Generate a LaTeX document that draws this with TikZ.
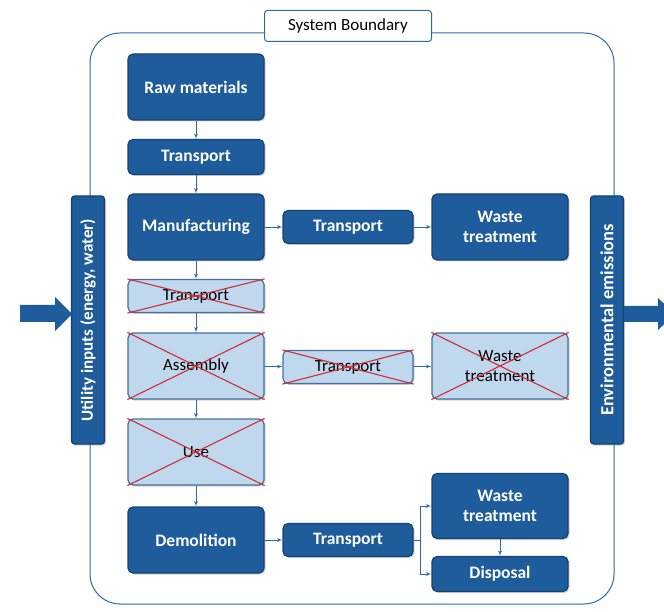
\documentclass[tikz,border=0pt]{standalone}
\usepackage{fontspec}
\setmainfont{Carlito}
\usetikzlibrary{arrows}
\usetikzlibrary{shadows}
\definecolor{mblue}{RGB}{30,92,156}
\definecolor{dblue}{RGB}{20,66,116}
\definecolor{lblue}{RGB}{192,216,238}
\definecolor{lline}{RGB}{44,106,166}
\definecolor{mred}{RGB}{205,45,55}
\tikzset{stage/.style = {draw=dblue, fill=mblue, rounded corners=5, line width=1.2,
                         text=white, align=center, inner sep=2,
                         font=\bfseries\fontsize{17.5}{20}\selectfont,
                         drop shadow={opacity=0.35, shadow xshift=1.5pt, shadow yshift=-1.5pt}}}
\tikzset{gone/.style = {draw=lline!70!gray, fill=lblue, rounded corners=5, line width=1.2,
                        text=black, align=center, inner sep=2,
                        font=\fontsize{17}{20}\selectfont,
                        drop shadow={opacity=0.35, shadow xshift=1.5pt, shadow yshift=-1.5pt}}}
\tikzset{big/.style = {minimum width=136, minimum height=66}}
\tikzset{small/.style = {minimum width=130, minimum height=33}}
\tikzset{bar/.style = {stage, rotate=90, minimum width=248, minimum height=33, rounded corners=3}}
\tikzset{flow/.style = {draw=lline, line width=0.8, -latex'}}
\tikzset{cross/.style = {draw=mred, line width=1.1}}

\begin{document}
\begin{tikzpicture}[x=1pt, y=-1pt]
        \clip (0, 0) rectangle (664, 612);

        % boundary with its label
        \draw [lline, line width=1, rounded corners=30] (90, 33) rectangle (614, 604);
        \node [draw=lline, fill=white, rounded corners=3, line width=1,
               minimum width=167, minimum height=31,
               font=\fontsize{17}{20}\selectfont] (sb) at (348, 26) {System Boundary};

        % first column
        \node [stage, big] (raw) at (196, 87) {Raw materials};
        \node [stage, big, minimum height=35] (t1) at (196, 157) {Transport};
        \node [stage, big] (man) at (196, 227) {Manufacturing};
        \node [gone, big, minimum height=33] (t2) at (196, 296) {Transport};
        \node [gone, big] (asm) at (196, 366) {Assembly};
        \node [gone, big] (use) at (196, 452) {Use};
        \node [stage, big] (dem) at (196, 540) {Demolition};

        % transport and waste branches
        \node [stage, small] (t3) at (348, 227) {Transport};
        \node [stage, big] (wt1) at (500, 227) {Waste\\treatment};
        \node [gone, small] (t4) at (348, 367) {Transport};
        \node [gone, big] (wt2) at (500, 366) {Waste\\treatment};
        \node [stage, small] (t5) at (348, 540) {Transport};
        \node [stage, big, minimum height=65] (wt3) at (500, 506) {Waste\\treatment};
        \node [stage, big, minimum height=35] (disp) at (500, 574) {Disposal};

        \draw [flow] (raw) -- (t1);
        \draw [flow] (t1) -- (man);
        \draw [flow] (man) -- (t2);
        \draw [flow] (t2) -- (asm);
        \draw [flow] (asm) -- (use);
        \draw [flow] (use) -- (dem);
        \draw [flow] (man) -- (t3);
        \draw [flow] (t3) -- (wt1);
        \draw [flow] (asm) -- (t4);
        \draw [flow] (t4) -- (wt2);
        \draw [flow] (dem) -- (t5);
        \coordinate (split) at (420, 540);
        \draw [lline, line width=0.8] (t5) -- (split);
        \draw [flow] (split) |- (wt3);
        \draw [flow] (split) |- (disp);
        \draw [flow] (wt3) -- (disp);

        % crossed out stages
        \foreach \n in {t2, asm, use, t4, wt2}
          \draw [cross] (\n.north west) -- (\n.south east)
                        (\n.south west) -- (\n.north east);

        % side bars
        \node [bar, font=\bfseries\fontsize{17}{20}\selectfont] (util) at (88, 320) {Utility inputs (energy, water)};
        \node [bar, font=\bfseries\fontsize{18.5}{20}\selectfont] (emis) at (607, 320) {Environmental emissions};

        % block arrows in and out
        \fill [mblue] (20, 305) -- (55, 305) -- (55, 297) -- (72, 314)
                      -- (55, 331) -- (55, 322) -- (20, 322) -- cycle;
        \fill [mblue] (624, 306) -- (658, 306) -- (658, 298) -- (675, 314)
                      -- (658, 330) -- (658, 322) -- (624, 322) -- cycle;
      \end{tikzpicture}
\end{document}
